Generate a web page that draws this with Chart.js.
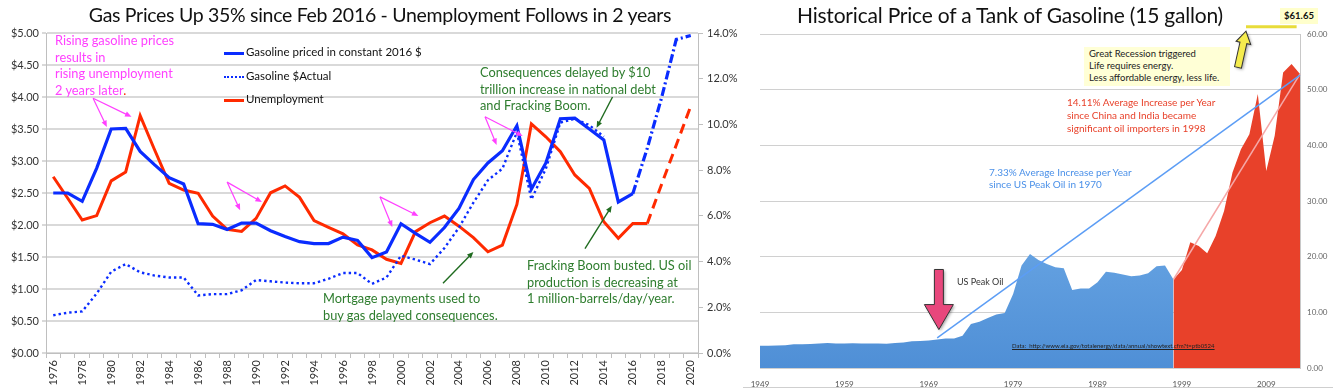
<!DOCTYPE html>
<html>
<head>
<meta charset="utf-8">
<script src="https://cdn.jsdelivr.net/npm/chart.js@4.4.0/dist/chart.umd.min.js"></script>
<style>
  body { margin: 0; background: #fff; width: 1333px; height: 389px; overflow: hidden; position: relative; font-family: Lato, sans-serif; }
  #left { position: absolute; left: 0; top: 0; width: 740px; height: 389px; }
  #right { position: absolute; left: 740px; top: 0; width: 593px; height: 389px; }
  .t { position: absolute; white-space: nowrap; }
  .pink { color: #ff40ff; font-size: 12.8px; line-height: 16.5px; }
  .green { color: #2e7d2e; font-size: 12.8px; line-height: 16.5px; }
  .leg { position: absolute; left: 224px; font-size: 11.5px; color: #111; white-space: nowrap; height: 14px; line-height: 14px; }
  .leg span { display: inline-block; width: 20px; vertical-align: middle; margin-right: 2px; }
</style>
</head>
<body>
<div id="left"><canvas id="gasChart"></canvas></div>
<div id="right"><canvas id="tankChart"></canvas></div>

<!-- left chart texts -->
<div class="t" style="left:0;width:760px;top:3px;text-align:center;font-size:19.5px;letter-spacing:-0.3px;color:#111">Gas Prices Up 35% since Feb 2016 - Unemployment Follows in 2 years</div>
<div class="leg" style="top:45px"><span style="border-top:3px solid #0a2cff"></span>Gasoline priced in constant 2016 $</div>
<div class="leg" style="top:69px"><span style="border-top:2.5px dotted #0a2cff"></span>Gasoline $Actual</div>
<div class="leg" style="top:92px"><span style="border-top:3px solid #ff2a00"></span>Unemployment</div>
<div class="t pink" style="left:55px;top:32px">Rising gasoline prices<br>results in<br>rising unemployment<br>2 years later<span style="color:#ff2a00">.</span></div>
<div class="t green" style="left:480px;top:64px">Consequences delayed by $10<br>trillion increase in national debt<br>and Fracking Boom.</div>
<div class="t green" style="left:323px;top:290px">Mortgage payments used to<br>buy gas delayed consequences.</div>
<div class="t green" style="left:527px;top:257px">Fracking Boom busted. US oil<br>production is decreasing at<br>1 million-barrels/day/year.</div>

<!-- right chart texts -->
<div class="t" style="left:760px;width:500px;top:2px;text-align:center;font-size:21px;letter-spacing:-0.2px;color:#111">Historical Price of a Tank of Gasoline (15 gallon)</div>
<div class="t" style="left:1280px;top:8px;width:38px;height:16px;background:#ffffcc;font-size:9.5px;font-weight:bold;line-height:16px;text-align:center;color:#111">$61.65</div>
<div class="t" style="left:1084px;top:47px;height:39px;background:#ffffd6;padding-left:5px;font-size:9.5px;line-height:12px;color:#222;padding-top:1px;box-sizing:border-box;width:146px">Great Recession triggered<br>Life requires energy.<br>Less affordable energy, less life.</div>
<div class="t" style="left:1067px;top:96px;font-size:10px;line-height:13px;color:#e8412a">14.11% Average Increase per Year<br>since China and India became<br>significant oil importers in 1998</div>
<div class="t" style="left:989px;top:167px;font-size:10px;line-height:11.5px;color:#4a90e8">7.33% Average Increase per Year<br>since US Peak Oil in 1970</div>
<div class="t" style="left:957px;top:276px;font-size:9px;color:#333">US Peak Oil</div>
<div class="t" style="left:1012px;top:342px;font-size:6px;color:#222;text-decoration:underline">Data:&nbsp; http://www.eia.gov/totalenergy/data/annual/showtext.cfm?t=ptb0524</div>
<div style="position:absolute;left:743px;top:387px;width:590px;border-top:1px solid #cfcfcf"></div>

<script>
// ---- left chart data (1976-2020) ----
const years = [1976, 1977, 1978, 1979, 1980, 1981, 1982, 1983, 1984, 1985,
  1986, 1987, 1988, 1989, 1990, 1991, 1992, 1993, 1994, 1995,
  1996, 1997, 1998, 1999, 2000, 2001, 2002, 2003, 2004, 2005,
  2006, 2007, 2008, 2009, 2010, 2011, 2012, 2013, 2014, 2015,
  2016, 2017, 2018, 2019, 2020];
// gasoline in constant 2016 $ (2017+ is the projection)
const gasConstant = [2.50, 2.50, 2.37, 2.89, 3.50, 3.51, 3.15, 2.94, 2.74, 2.64,
  2.02, 2.01, 1.93, 2.03, 2.03, 1.91, 1.82, 1.74, 1.71, 1.71,
  1.81, 1.76, 1.49, 1.58, 2.02, 1.87, 1.73, 1.96, 2.26, 2.71,
  2.97, 3.16, 3.55, 2.56, 2.97, 3.66, 3.67, 3.50, 3.33, 2.36,
  2.49, 3.20, 4.00, 4.90, 4.96];
const gasActual = [0.59, 0.63, 0.65, 0.93, 1.27, 1.39, 1.26, 1.21, 1.18, 1.18,
  0.90, 0.92, 0.92, 0.98, 1.14, 1.12, 1.10, 1.09, 1.09, 1.16,
  1.25, 1.25, 1.08, 1.18, 1.52, 1.46, 1.39, 1.64, 1.96, 2.35,
  2.70, 2.88, 3.45, 2.40, 2.88, 3.60, 3.66, 3.56, 3.38, null,
  null, null, null, null, null];
// unemployment rate, % (2018+ is the projection)
const unemployment = [7.71, 6.77, 5.82, 6.01, 7.53, 7.92, 10.38, 8.88, 7.42, 7.13,
  6.99, 5.99, 5.41, 5.32, 5.89, 7.01, 7.31, 6.81, 5.79, 5.50,
  5.21, 4.73, 4.51, 4.10, 3.92, 5.31, 5.70, 5.99, 5.55, 5.05,
  4.43, 4.72, 6.50, 10.02, 9.46, 8.81, 7.79, 7.20, 5.74, 5.02,
  5.67, 5.67, 7.40, 9.10, 10.80];
const gasProjectionFrom = 2016;
const jobsProjectionFrom = 2017;

// ---- right chart data (1949-2013), $ per 15 gallon tank ----
const tankYears = [1949, 1950, 1951, 1952, 1953, 1954, 1955, 1956, 1957, 1958,
  1959, 1960, 1961, 1962, 1963, 1964, 1965, 1966, 1967, 1968,
  1969, 1970, 1971, 1972, 1973, 1974, 1975, 1976, 1977, 1978,
  1979, 1980, 1981, 1982, 1983, 1984, 1985, 1986, 1987, 1988,
  1989, 1990, 1991, 1992, 1993, 1994, 1995, 1996, 1997, 1998,
  1999, 2000, 2001, 2002, 2003, 2004, 2005, 2006, 2007, 2008,
  2009, 2010, 2011, 2012, 2013];
const tankPrice = [4.0, 4.0, 4.05, 4.1, 4.25, 4.25, 4.3, 4.4, 4.5, 4.4,
  4.4, 4.45, 4.4, 4.4, 4.4, 4.35, 4.5, 4.6, 4.8, 4.85,
  4.95, 5.1, 5.3, 5.3, 5.8, 7.9, 8.3, 9.0, 9.6, 9.9,
  13.3, 18.4, 20.5, 19.4, 18.7, 18.1, 17.9, 14.0, 14.3, 14.3,
  15.4, 17.3, 17.1, 16.8, 16.5, 16.6, 17.0, 18.3, 18.4, 15.9,
  17.6, 22.6, 21.9, 20.6, 23.7, 28.2, 35.1, 39.3, 42.0, 49.2,
  35.4, 41.7, 53.1, 54.6, 52.8];
const splitYear = 1998;
const trendPeakOil = [[1970, 5.4], [2013, 52.6]];
const trendChina = [[1998, 15.9], [2013, 52.8]];
const peakTankPrice = 61.65;

Chart.defaults.font.family = 'Lato, sans-serif';
Chart.defaults.animation = false;

// annotation arrows, in (year, $) coordinates
const pinkArrows = [
  [[1978.75, 3.98], [1979.7, 3.53]], [[1978.75, 3.98], [1981.4, 3.69]],
  [[1988.0, 2.67], [1988.9, 2.23]], [[1988.0, 2.67], [1990.4, 2.36]],
  [[1998.55, 2.44], [1999.4, 1.97]], [[1998.55, 2.44], [2001.2, 2.14]],
  [[2005.8, 3.69], [2006.6, 3.25]], [[2005.8, 3.69], [2008.4, 3.39]]
];
const greenArrows = [
  [[2014.6, 4.0], [2013.5, 3.52]],
  [[2002.9, 1.09], [2005.0, 1.58]],
  [[2012.7, 1.63], [2014.55, 2.30]]
];

function drawArrow(ctx, x1, y1, x2, y2, color, w) {
  const a = Math.atan2(y2 - y1, x2 - x1), h = 7;
  ctx.strokeStyle = color; ctx.fillStyle = color; ctx.lineWidth = w;
  ctx.beginPath(); ctx.moveTo(x1, y1); ctx.lineTo(x2 - Math.cos(a) * h * 0.8, y2 - Math.sin(a) * h * 0.8); ctx.stroke();
  ctx.beginPath();
  ctx.moveTo(x2, y2);
  ctx.lineTo(x2 - h * Math.cos(a - 0.4), y2 - h * Math.sin(a - 0.4));
  ctx.lineTo(x2 - h * Math.cos(a + 0.4), y2 - h * Math.sin(a + 0.4));
  ctx.closePath(); ctx.fill();
}

const arrowPlugin = {
  id: 'arrows',
  afterDatasetsDraw(chart) {
    const { ctx, scales: { x, y } } = chart;
    const px = yr => x.getPixelForValue(yr - years[0]);
    ctx.save();
    pinkArrows.forEach(([a, b]) => drawArrow(ctx, px(a[0]), y.getPixelForValue(a[1]), px(b[0]), y.getPixelForValue(b[1]), '#ff40ff', 1.2));
    greenArrows.forEach(([a, b]) => drawArrow(ctx, px(a[0]), y.getPixelForValue(a[1]), px(b[0]), y.getPixelForValue(b[1]), '#1f6b1f', 1.4));
    ctx.restore();
  }
};

new Chart(document.getElementById('gasChart'), {
  type: 'line',
  data: {
    labels: years,
    datasets: [
      { label: 'Gasoline priced in constant 2016 $', data: gasConstant, yAxisID: 'y', borderColor: '#0a2cff', borderWidth: 3.2, pointRadius: 0, tension: 0,
        segment: { borderDash: c => years[c.p0DataIndex] >= gasProjectionFrom ? [9, 3, 2, 3] : undefined } },
      { label: 'Gasoline $Actual', data: gasActual, yAxisID: 'y', borderColor: '#0a2cff', borderWidth: 2.4, borderDash: [2.4, 3], pointRadius: 0, tension: 0 },
      { label: 'Unemployment', data: unemployment, yAxisID: 'y1', borderColor: '#ff2a00', borderWidth: 3, pointRadius: 0, tension: 0,
        segment: { borderDash: c => years[c.p0DataIndex] >= jobsProjectionFrom ? [10, 6] : undefined } }
    ]
  },
  options: {
    responsive: true, maintainAspectRatio: false,
    layout: { padding: { top: 33, left: 0, right: 0, bottom: 0 } },
    plugins: { legend: { display: false }, tooltip: { enabled: false } },
    scales: {
      x: {
        offset: true,
        grid: { offset: true, drawOnChartArea: false, tickLength: 5, color: '#bfbfbf' },
        border: { color: '#bfbfbf' },
        ticks: { autoSkip: false, maxRotation: 90, minRotation: 90, padding: 2, color: '#333', font: { size: 11 },
          callback: (v, i) => i % 2 === 0 ? years[i] : '' },
        afterFit: s => { s.height = 36; }
      },
      y: {
        position: 'left', min: 0, max: 5,
        grid: { color: '#d9d9d9', lineWidth: 2, tickLength: 4 },
        border: { color: '#bfbfbf' },
        ticks: { stepSize: 0.5, color: '#333', font: { size: 11 }, padding: 3, callback: v => '$' + v.toFixed(2) },
        afterFit: s => { s.width = 46; }
      },
      y1: {
        position: 'right', min: 0, max: 14,
        grid: { drawOnChartArea: false, tickLength: 5, color: '#bfbfbf' },
        border: { color: '#bfbfbf' },
        ticks: { stepSize: 2, color: '#333', font: { size: 11 }, padding: 4, callback: v => v.toFixed(1) + '%' },
        afterFit: s => { s.width = 42; }
      }
    }
  },
  plugins: [arrowPlugin]
});

// ---- right chart ----
function trendData(pts) {
  return tankYears.map(yr => { const p = pts.find(q => q[0] === yr); return p ? p[1] : null; });
}

function fatArrow(ctx, x1, y1, x2, y2, shaftW, headW, headL, fill) {
  const a = Math.atan2(y2 - y1, x2 - x1), len = Math.hypot(x2 - x1, y2 - y1);
  ctx.save();
  ctx.translate(x1, y1); ctx.rotate(a);
  ctx.beginPath();
  ctx.moveTo(0, -shaftW / 2); ctx.lineTo(len - headL, -shaftW / 2); ctx.lineTo(len - headL, -headW / 2);
  ctx.lineTo(len, 0);
  ctx.lineTo(len - headL, headW / 2); ctx.lineTo(len - headL, shaftW / 2); ctx.lineTo(0, shaftW / 2);
  ctx.closePath();
  ctx.shadowColor = 'rgba(0,0,0,0.35)'; ctx.shadowBlur = 3; ctx.shadowOffsetX = 1.5; ctx.shadowOffsetY = 1.5;
  ctx.fillStyle = fill; ctx.fill();
  ctx.shadowColor = 'transparent';
  ctx.strokeStyle = '#333'; ctx.lineWidth = 1; ctx.stroke();
  ctx.restore();
}

const tankPlugin = {
  id: 'tankMarks',
  afterDraw(chart) {
    const { ctx, scales: { x, y } } = chart;
    const px = yr => x.getPixelForValue(yr - tankYears[0]);
    ctx.save();
    // peak price bar
    ctx.strokeStyle = '#e8dc3a'; ctx.lineWidth = 3;
    ctx.beginPath(); ctx.moveTo(px(2006.6), y.getPixelForValue(peakTankPrice) + 2); ctx.lineTo(px(2012.6), y.getPixelForValue(peakTankPrice) + 2); ctx.stroke();
    // yellow arrow to the peak price
    fatArrow(ctx, px(2005.65), y.getPixelForValue(54.0), px(2006.6), y.getPixelForValue(60.5), 7, 15, 12, '#f5ec4e');
    // US peak oil arrow
    fatArrow(ctx, px(1970.2), y.getPixelForValue(17.7), px(1970.2), y.getPixelForValue(6.9), 9, 29, 25, '#e8477c');
    ctx.restore();
  }
};

new Chart(document.getElementById('tankChart'), {
  type: 'line',
  data: {
    labels: tankYears,
    datasets: [
      { data: trendData(trendPeakOil), spanGaps: true, borderColor: '#5c9df5', borderWidth: 1.5, pointRadius: 0, fill: false },
      { data: trendData(trendChina), spanGaps: true, borderColor: '#f5a8a8', borderWidth: 1.5, pointRadius: 0, fill: false },
      { data: tankPrice.map((v, i) => tankYears[i] <= splitYear ? v : null), borderWidth: 0, pointRadius: 0, fill: 'origin', tension: 0,
        backgroundColor: c => {
          const ca = c.chart.chartArea;
          if (!ca) return '#5e9de0';
          const g = c.chart.ctx.createLinearGradient(0, ca.bottom, 0, ca.top + 120);
          g.addColorStop(0, '#4f8fd6'); g.addColorStop(1, '#75b0ea');
          return g;
        } },
      { data: tankPrice.map((v, i) => tankYears[i] >= splitYear ? v : null), borderWidth: 0, pointRadius: 0, fill: 'origin', tension: 0, backgroundColor: '#e8412a' }
    ]
  },
  options: {
    responsive: true, maintainAspectRatio: false,
    layout: { padding: { top: 34, left: 20, right: 0, bottom: 0 } },
    plugins: { legend: { display: false }, tooltip: { enabled: false } },
    scales: {
      x: {
        grid: { display: false },
        border: { display: false },
        ticks: { autoSkip: false, maxRotation: 0, color: '#555', font: { size: 8 }, padding: 4,
          callback: (v, i) => (tankYears[i] - tankYears[0]) % 10 === 0 ? tankYears[i] : '' },
        afterFit: s => { s.height = 21; }
      },
      y: {
        position: 'right', min: 0, max: 60,
        grid: { color: '#d0d0d0', lineWidth: 1, drawTicks: false },
        border: { color: '#c8c8c8' },
        ticks: { stepSize: 10, color: '#666', font: { size: 8 }, padding: 7, callback: v => v.toFixed(2) },
        afterFit: s => { s.width = 33; }
      }
    }
  },
  plugins: [tankPlugin]
});
</script>
</body>
</html>
